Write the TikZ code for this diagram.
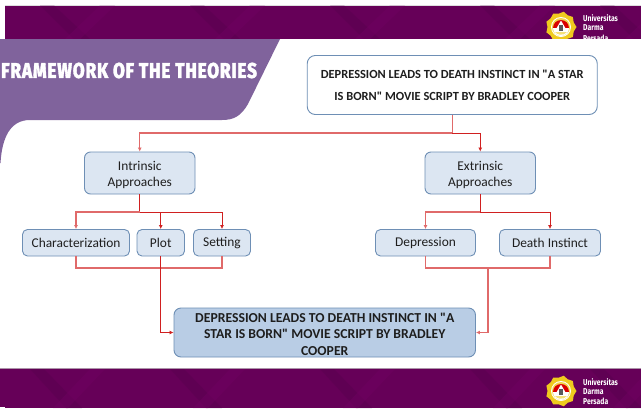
\documentclass[tikz,border=0pt]{standalone}
\usepackage{fontspec}
\newfontfamily\bodyfont{Carlito}
\newfontfamily\titlefont[FakeStretch=0.8,LetterSpace=4,FakeBold=1.5]{Fira Sans ExtraBold}
\newfontfamily\logofont[FakeStretch=0.8]{Fira Sans}
\usetikzlibrary{arrows.meta}
\definecolor{bandc}{HTML}{660058}
\definecolor{bandd}{HTML}{5A0050}
\definecolor{bande}{HTML}{720062}
\definecolor{panelc}{HTML}{80639C}
\definecolor{edgec}{HTML}{6E8FB5}
\definecolor{softc}{HTML}{DCE6F2}
\definecolor{strongc}{HTML}{B9CDE5}
\definecolor{linea}{HTML}{D02020}
\definecolor{lineb}{HTML}{E06A6A}
\definecolor{goldc}{HTML}{EFCB1E}
\definecolor{inkc}{HTML}{1E1E1E}
\newcommand{\topup}{\rule{0pt}{13pt}}
\tikzset{
  box/.style={draw=edgec,line width=0.9pt,fill=softc,rounded corners=5pt,inner sep=0pt,align=center,text=inkc,font=\bodyfont\fontsize{13.4}{16.5}\selectfont},
  conn/.style={draw=linea,line width=1pt},
  connsoft/.style={draw=lineb,line width=1.2pt},
  tip/.style={-{Latex[length=4pt,width=4pt]}},
  logoword/.style={anchor=west,text=white,inner sep=0pt,font=\logofont\bfseries\fontsize{8.5}{9}\selectfont}
}
\newcommand{\logomark}[2]{%
  \begin{scope}[shift={(#1,#2)}]
    \fill[goldc] (0:15.5)
      \foreach \a in {20,40,...,340}{ -- (\a:{mod(\a,40)==0 ? 15.5 : 13.5})} -- cycle;
    \fill[white] (0,0) circle (10);
    \fill[goldc!80!white] (0,0) circle (9);
    \fill[red!85!black] (-8,1) arc (180:360:8) -- cycle;
    \fill[white] (-8,1) -- (8,1) arc (0:180:8) -- cycle;
    \fill[goldc!60!white] (-6,5) -- (6,5) arc (40:140:7.8) -- cycle;
    \fill[white] (0,-6.5) -- (-5.5,3) -- (5.5,3) -- cycle;
    \fill[gray!70!black] (-2,-2.5) rectangle (2,3.5);
  \end{scope}}
\begin{document}
\begin{tikzpicture}[x=1pt,y=-1pt]
\useasboundingbox (0,0) rectangle (641,408);
\fill[white] (0,0) rectangle (641,408);
% top band
\fill[gray!25] (5,4.5) rectangle (641,5.5);
\fill[bandc] (5,5.5) rectangle (641,39);
\begin{scope}
  \clip (5,5.5) rectangle (641,39);
  \foreach \x in {40,190,330,480,600}{
    \fill[bandd,opacity=.55] (\x,5.5) -- (\x+14,5.5) -- (\x+50,39) -- (\x+34,39) -- cycle;
    \fill[bande,opacity=.4] (\x+60,5.5) -- (\x+75,5.5) -- (\x+40,39) -- (\x+25,39) -- cycle;
  }
\end{scope}
% bottom band
\fill[gray!60!bandc!60] (0,368) rectangle (641,369.5);
\fill[bandc] (0,369) rectangle (641,408);
\begin{scope}
  \clip (0,369) rectangle (641,408);
  \foreach \x in {30,170,320,470,590}{
    \fill[bandd,opacity=.55] (\x,369) -- (\x+14,369) -- (\x+52,408) -- (\x+36,408) -- cycle;
    \fill[bande,opacity=.4] (\x+60,369) -- (\x+75,369) -- (\x+38,408) -- (\x+23,408) -- cycle;
  }
\end{scope}
\fill[white] (0,407) rectangle (5,408);
% logos
\logomark{561}{27}
\node[logoword] (ua) at (583,18) {Universitas};
\node[logoword] (ub) at (583,28) {Darma};
\node[logoword] (uc) at (583,38) {Persada};
\fill[white] (0,39) rectangle (641,60);
\logomark{561}{391}
\node[logoword] (la) at (583,382) {Universitas};
\node[logoword] (lb) at (583,391.5) {Darma};
\node[logoword] (lc) at (583,401) {Persada};
% title panel
\fill[panelc] (0,39) -- (280,39) -- (248,104) .. controls (241,116) and (234,120) .. (222,120)
  -- (30,120) .. controls (10,120) and (2,138) .. (0.5,163) -- (0,163) -- cycle;
\node[anchor=west,inner sep=0pt,text=white,font=\titlefont\fontsize{21.5}{23}\selectfont] (title) at (1,70.5) {FRAMEWORK OF THE THEORIES};
% boxes
\node[box,fill=white,minimum width=290pt,minimum height=59pt,rounded corners=8pt,font=\bodyfont\bfseries\fontsize{12.4}{22}\selectfont] (top) at (452.25,85) {DEPRESSION LEADS TO DEATH INSTINCT IN "A STAR\\IS BORN" MOVIE SCRIPT BY BRADLEY COOPER};
\node[box,minimum width=110.5pt,minimum height=42pt,rounded corners=6pt] (intr) at (139.75,173) {\topup Intrinsic\\Approaches};
\node[box,minimum width=110.5pt,minimum height=42pt,rounded corners=6pt] (extr) at (480.25,173) {\topup Extrinsic\\Approaches};
\node[box,minimum width=107pt,minimum height=26.5pt] (char) at (76,242.75) {Characterization};
\node[box,minimum width=47.5pt,minimum height=26.5pt] (plot) at (160.75,242.75) {Plot};
\node[box,minimum width=57pt,minimum height=26.5pt] (sett) at (222,242.75) {Setting};
\node[box,minimum width=100pt,minimum height=26.5pt] (depr) at (425.5,242.75) {Depression};
\node[box,minimum width=101pt,minimum height=26.5pt] (deat) at (550,242.75) {Death Instinct};
\node[box,fill=strongc,minimum width=301.5pt,minimum height=49pt,rounded corners=7pt,font=\bodyfont\bfseries\fontsize{13.7}{16.5}\selectfont] (res) at (324.75,332.5) {\topup DEPRESSION LEADS TO DEATH INSTINCT IN "A\\STAR IS BORN" MOVIE SCRIPT BY BRADLEY\\COOPER};
% junctions
\coordinate (j1) at (452.25,133);
\coordinate (j2) at (139.75,212);
\coordinate (j3) at (480.25,212);
\coordinate (j4) at (160.75,268);
\coordinate (j5) at (488,268);
% connectors
\draw[connsoft] (top.south) -- (j1);
\draw[connsoft,tip] (j1) -| (intr.north);
\draw[conn,tip] (j1) -| (extr.north);
\draw[conn] (intr.south) -- (j2);
\draw[connsoft,tip] (j2) -| (char.north);
\draw[conn,tip] (j2) -| (plot.north);
\draw[conn,tip] (j2) -| (sett.north);
\draw[conn] (extr.south) -- (j3);
\draw[connsoft,tip] (j3) -| (depr.north);
\draw[conn,tip] (j3) -| (deat.north);
\draw[connsoft] (char.south) |- (j4);
\draw[connsoft] (sett.south) |- (j4);
\draw[conn,tip] (plot.south) |- (res.west);
\draw[connsoft] (depr.south) |- (j5);
\draw[connsoft] (deat.south) |- (j5);
\draw[connsoft,tip] (j5) |- (res.east);
\end{tikzpicture}
\end{document}
